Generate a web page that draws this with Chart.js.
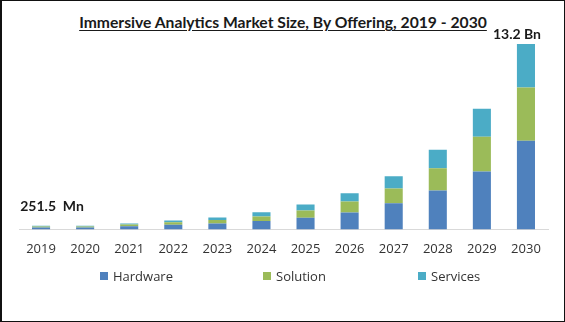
<!DOCTYPE html>
<html>
<head>
<meta charset="utf-8">
<script src="https://cdn.jsdelivr.net/npm/chart.js@4/dist/chart.umd.min.js"></script>
<style>
  html, body { margin: 0; padding: 0; background: #fff; }
  #frame {
    position: relative; width: 565px; height: 322px; box-sizing: border-box;
    border: 1px solid #111; border-left-width: 2px; overflow: hidden; background: #fff;
  }
  #title {
    position: absolute; left: 0; right: 0; top: 12px; text-align: center;
    font: bold 15.7px Lato, "Liberation Sans", sans-serif; color: #1a1a1a;
    text-decoration: underline; text-underline-offset: 2px;
  }
  #chart { position: absolute; left: -2px; top: -1px; }
  #legend {
    position: absolute; top: 265px; left: 0; right: 0; height: 20px;
    font: 13px "Open Sans", sans-serif; color: #333;
  }
  #legend .item { position: absolute; top: 0; display: flex; align-items: center; white-space: nowrap; line-height: 20px; }
  #legend .box { width: 8px; height: 8px; margin-right: 5px; }
</style>
</head>
<body>
<div id="frame">
  <div id="title">Immersive Analytics Market Size, By Offering, 2019 - 2030</div>
  <canvas id="chart" width="565" height="322"></canvas>
  <div id="legend"></div>
</div>
<script>
// Market size by offering, USD million
const years = ['2019', '2020', '2021', '2022', '2023', '2024', '2025', '2026', '2027', '2028', '2029', '2030'];
const hardware = [130, 135, 220, 330, 426, 591, 828, 1206, 1869, 2768, 4116, 6316];
const solution = [70, 75, 120, 180, 236, 331, 520, 781, 1041, 1585, 2484, 3784];
const services = [51.5, 55, 85, 130, 190, 307, 426, 591, 875, 1325, 1987, 3100];

// Totals are annotated on the first and last bars
const totals = years.map((_, i) => hardware[i] + solution[i] + services[i]);
const fmtTotal = v => v >= 1000 ? (v / 1000).toFixed(1) + ' Bn' : v.toFixed(1) + '  Mn';

const totalLabels = {
  id: 'totalLabels',
  afterDatasetsDraw(chart) {
    const { ctx, scales: { x, y } } = chart;
    const marks = [
      { i: 0, dx: 11, dy: -12 },
      { i: years.length - 1, dx: -9, dy: -3 }
    ];
    ctx.save();
    ctx.font = 'bold 14px Lato, "Liberation Sans", sans-serif';
    ctx.fillStyle = '#1a1a1a';
    ctx.textAlign = 'center';
    ctx.textBaseline = 'bottom';
    marks.forEach(m => {
      ctx.fillText(fmtTotal(totals[m.i]), x.getPixelForValue(m.i) + m.dx, y.getPixelForValue(totals[m.i]) + m.dy);
    });
    ctx.restore();
  }
};

const chart = new Chart(document.getElementById('chart'), {
  type: 'bar',
  data: {
    labels: years,
    datasets: [
      { label: 'Hardware', data: hardware, backgroundColor: '#4f81bd' },
      { label: 'Solution', data: solution, backgroundColor: '#9bbb59' },
      { label: 'Services', data: services, backgroundColor: '#4bacc6' }
    ]
  },
  options: {
    responsive: false,
    animation: false,
    layout: { padding: { left: 19, right: 17, top: 44, bottom: 61 } },
    datasets: { bar: { categoryPercentage: 0.82, barPercentage: 0.5 } },
    scales: {
      x: {
        stacked: true,
        grid: { display: false },
        border: { display: true, color: '#d9d9d9', width: 1 },
        ticks: { color: '#333', font: { family: '"Open Sans", sans-serif', size: 13 }, padding: 4, maxRotation: 0 }
      },
      y: { stacked: true, display: false, min: 0, max: 13200 }
    },
    plugins: {
      legend: { display: false },
      tooltip: { enabled: false }
    }
  },
  plugins: [totalLabels]
});

// Legend built from the chart's own datasets, spread across the bottom
const legendLeft = [98, 261, 416];
const legendEl = document.getElementById('legend');
chart.data.datasets.forEach((ds, i) => {
  const item = document.createElement('div');
  item.className = 'item';
  item.style.left = legendLeft[i] + 'px';
  const box = document.createElement('span');
  box.className = 'box';
  box.style.background = ds.backgroundColor;
  item.appendChild(box);
  item.appendChild(document.createTextNode(ds.label));
  legendEl.appendChild(item);
});
</script>
</body>
</html>
